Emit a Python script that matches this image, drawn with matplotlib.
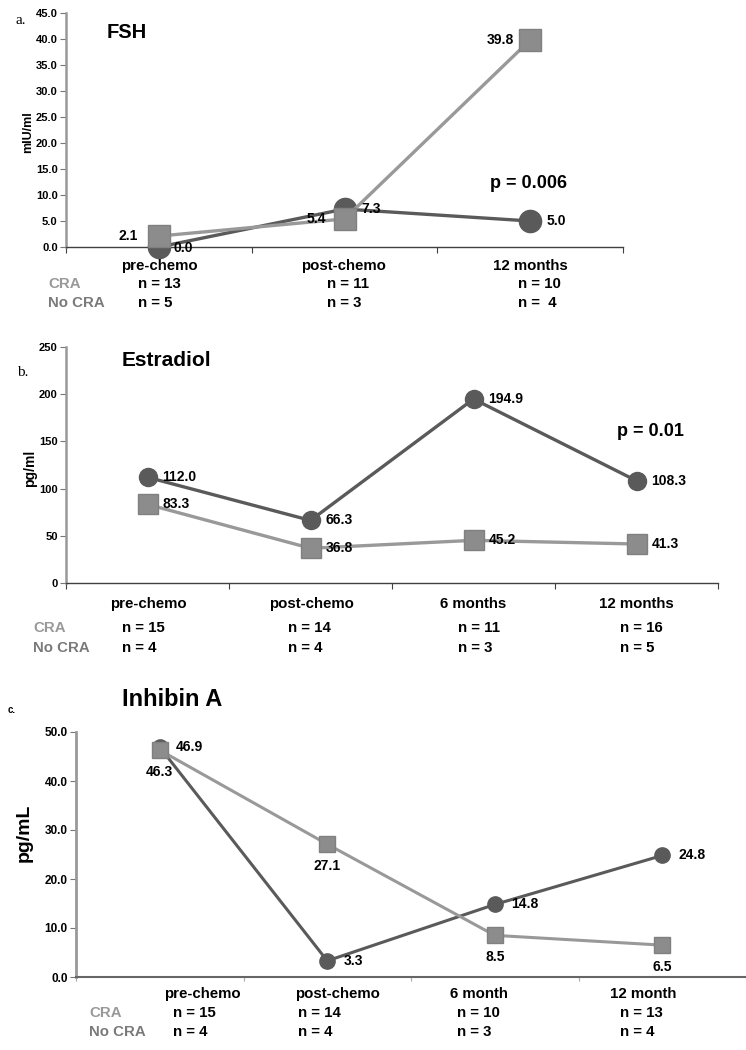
import matplotlib
matplotlib.use("Agg")
import matplotlib.pyplot as plt

plt.rcParams['font.family'] = ['Liberation Sans', 'DejaVu Sans']

# ---------------- data ----------------
fsh_cats = ["pre-chemo", "post-chemo", "12 months"]
fsh_cra = [2.1, 5.4, 39.8]
fsh_nocra = [0.0, 7.3, 5.0]
fsh_n_cra = ["n = 13", "n = 11", "n = 10"]
fsh_n_nocra = ["n = 5", "n = 3", "n =  4"]

e2_cats = ["pre-chemo", "post-chemo", "6 months", "12 months"]
e2_cra = [83.3, 36.8, 45.2, 41.3]
e2_nocra = [112.0, 66.3, 194.9, 108.3]
e2_n_cra = ["n = 15", "n = 14", "n = 11", "n = 16"]
e2_n_nocra = ["n = 4", "n = 4", "n = 3", "n = 5"]

inh_cats = ["pre-chemo", "post-chemo", "6 month", "12 month"]
inh_cra = [46.3, 27.1, 8.5, 6.5]
inh_nocra = [46.9, 3.3, 14.8, 24.8]
inh_n_cra = ["n = 15", "n = 14", "n = 10", "n = 13"]
inh_n_nocra = ["n = 4", "n = 4", "n = 3", "n = 4"]

# ---------------- style ----------------
W, H = 746, 1050
LIGHT = "#999999"
SQ_FACE = "#8c8c8c"
SQ_EDGE = "#808080"
DARK = "#5a5a5a"
CRA_TXT = "#999999"
NOCRA_TXT = "#7a7a7a"
DLAB = 10      # data label size
ROW = 10.8     # category / n rows size

fig = plt.figure(figsize=(W / 100, H / 100), dpi=100)


def fx(x):
    return x / W


def fy(y):
    return 1 - y / H


def make_ax(l, t, r, b):
    return fig.add_axes([fx(l), fy(b), fx(r) - fx(l), fy(t) - fy(b)])


def style_ax(ax, bottom_color, bottom_lw, left_lw=1.8, tsize=8):
    for s in ["top", "right"]:
        ax.spines[s].set_visible(False)
    ax.spines["left"].set_color(LIGHT)
    ax.spines["left"].set_linewidth(left_lw)
    ax.spines["bottom"].set_color(bottom_color)
    ax.spines["bottom"].set_linewidth(bottom_lw)
    ax.tick_params(axis="y", direction="out", length=4, color="#777777",
                   labelsize=tsize, pad=2)
    ax.tick_params(axis="x", direction="out", length=4, color=bottom_color,
                   labelbottom=False)
    for lab in ax.get_yticklabels():
        lab.set_fontweight("bold")


def plot_series(ax, cra, nocra, ms_c, ms_s, lw=2.4):
    x = list(range(len(cra)))
    ax.plot(x, nocra, color=DARK, lw=lw, marker="o", ms=ms_c,
            mfc=DARK, mec=DARK, zorder=3, clip_on=False)
    ax.plot(x, cra, color=LIGHT, lw=lw, marker="s", ms=ms_s,
            mfc=SQ_FACE, mec=SQ_EDGE, zorder=4, clip_on=False)


def label(ax, x, y, txt, dx, dy, ha="left", size=DLAB):
    ax.annotate(txt, (x, y), xytext=(dx, dy), textcoords="offset pixels",
                ha=ha, va="center", fontsize=size, fontweight="bold",
                color="black", zorder=6)


def cat_rows(cat_pos, cats, n_pos, n_cra, n_nocra, y_cat, y_cra, y_nocra,
             lab_x, size=ROW):
    for (xc, c) in zip(cat_pos, cats):
        fig.text(fx(xc), fy(y_cat), c, ha="center", va="center",
                 fontsize=size, fontweight="bold")
    for xn, a, b in zip(n_pos, n_cra, n_nocra):
        fig.text(fx(xn), fy(y_cra), a, ha="left", va="center",
                 fontsize=size, fontweight="bold")
        fig.text(fx(xn), fy(y_nocra), b, ha="left", va="center",
                 fontsize=size, fontweight="bold")
    fig.text(fx(lab_x), fy(y_cra), "CRA", ha="left", va="center",
             fontsize=size, fontweight="bold", color=CRA_TXT)
    fig.text(fx(lab_x), fy(y_nocra), "No CRA", ha="left", va="center",
             fontsize=size, fontweight="bold", color=NOCRA_TXT)


# ---------------- panel a: FSH ----------------
axa = make_ax(66, 13, 623, 247)
axa.set_xlim(-0.5, len(fsh_cats) - 0.5)
axa.set_ylim(0, 45)
axa.set_yticks([i * 5.0 for i in range(10)])
axa.set_yticklabels([f"{i * 5.0:.1f}" for i in range(10)])
axa.set_xticks([i + 0.5 for i in range(-1, len(fsh_cats))])
style_ax(axa, "#404040", 1.0)
plot_series(axa, fsh_cra, fsh_nocra, 16, 16)
label(axa, 0, fsh_cra[0], "2.1", -31, 0, ha="center")
label(axa, 0, fsh_nocra[0], "0.0", 24, -1, ha="center")
label(axa, 1, fsh_cra[1], "5.4", -28, 0, ha="center")
label(axa, 1, fsh_nocra[1], "7.3", 27, 0, ha="center")
label(axa, 2, fsh_cra[2], "39.8", -30, 0, ha="center")
label(axa, 2, fsh_nocra[2], "5.0", 26, 0, ha="center")
axa.set_ylabel("mIU/ml", fontsize=9, fontweight="bold")
axa.yaxis.set_label_coords(fx(23) - fx(66), 1 - (132 - 13) / (247 - 13))
fig.text(fx(107), fy(32), "FSH", ha="left", va="center", fontsize=14.5,
         fontweight="bold")
fig.text(fx(490), fy(184), "p = 0.006", ha="left", va="center", fontsize=13,
         fontweight="bold")
fig.text(fx(15), fy(20), "a.", ha="left", va="center", fontsize=11,
         family="Liberation Serif")
cat_rows([159, 344, 530], fsh_cats, [138, 327, 518], fsh_n_cra, fsh_n_nocra,
         266, 284, 303, 48)

# ---------------- panel b: Estradiol ----------------
axb = make_ax(66, 347, 718, 583)
axb.set_xlim(-0.5, len(e2_cats) - 0.5)
axb.set_ylim(0, 250)
axb.set_yticks(range(0, 251, 50))
axb.set_xticks([i + 0.5 for i in range(-1, len(e2_cats))])
style_ax(axb, "#404040", 1.0)
plot_series(axb, e2_cra, e2_nocra, 13, 14)
for i, v in enumerate(e2_nocra):
    label(axb, i, v, f"{v:.1f}", 15, 0)
for i, v in enumerate(e2_cra):
    label(axb, i, v, f"{v:.1f}", 15, 0)
axb.set_ylabel("pg/ml", fontsize=10, fontweight="bold")
axb.yaxis.set_label_coords(fx(33) - fx(66), 1 - (468 - 347) / (583 - 347))
fig.text(fx(122), fy(360), "Estradiol", ha="left", va="center", fontsize=15,
         fontweight="bold")
fig.text(fx(617), fy(432), "p = 0.01", ha="left", va="center", fontsize=13,
         fontweight="bold")
fig.text(fx(17), fy(372), "b.", ha="left", va="center", fontsize=11,
         family="Liberation Serif")
cat_rows([148, 311, 473, 636], e2_cats, [122, 288, 458, 620], e2_n_cra,
         e2_n_nocra, 604, 628, 648, 33)

# ---------------- panel c: Inhibin A ----------------
axc = make_ax(76, 732, 746, 977)
axc.set_xlim(-0.5, len(inh_cats) - 0.5)
axc.set_ylim(0, 50)
axc.set_yticks([i * 10.0 for i in range(6)])
axc.set_yticklabels([f"{i * 10.0:.1f}" for i in range(6)])
axc.set_xticks([i + 0.5 for i in range(-1, len(inh_cats))])
style_ax(axc, "#666666", 1.5, left_lw=2.0, tsize=8.5)
axc.tick_params(axis="x", length=3, color="#aaaaaa")
plot_series(axc, inh_cra, inh_nocra, 11, 12, lw=2.2)
for i, v in enumerate(inh_nocra):
    label(axc, i, v, f"{v:.1f}", 16, 0)
for i, v in enumerate(inh_cra):
    label(axc, i, v, f"{v:.1f}", 0, -22, ha="center")
axc.set_ylabel("pg/mL", fontsize=14, fontweight="bold")
axc.yaxis.set_label_coords(fx(28) - fx(76), 1 - (833 - 732) / (977 - 732))
fig.text(fx(122), fy(700), "Inhibin A", ha="left", va="center", fontsize=17,
         fontweight="bold")
fig.text(fx(8), fy(710), "c.", ha="left", va="center", fontsize=7,
         fontweight="bold")
cat_rows([202, 338, 479, 643], inh_cats, [173, 298, 457, 620], inh_n_cra,
         inh_n_nocra, 994, 1013, 1032, 89)

fig.savefig("out.png", dpi=100)
